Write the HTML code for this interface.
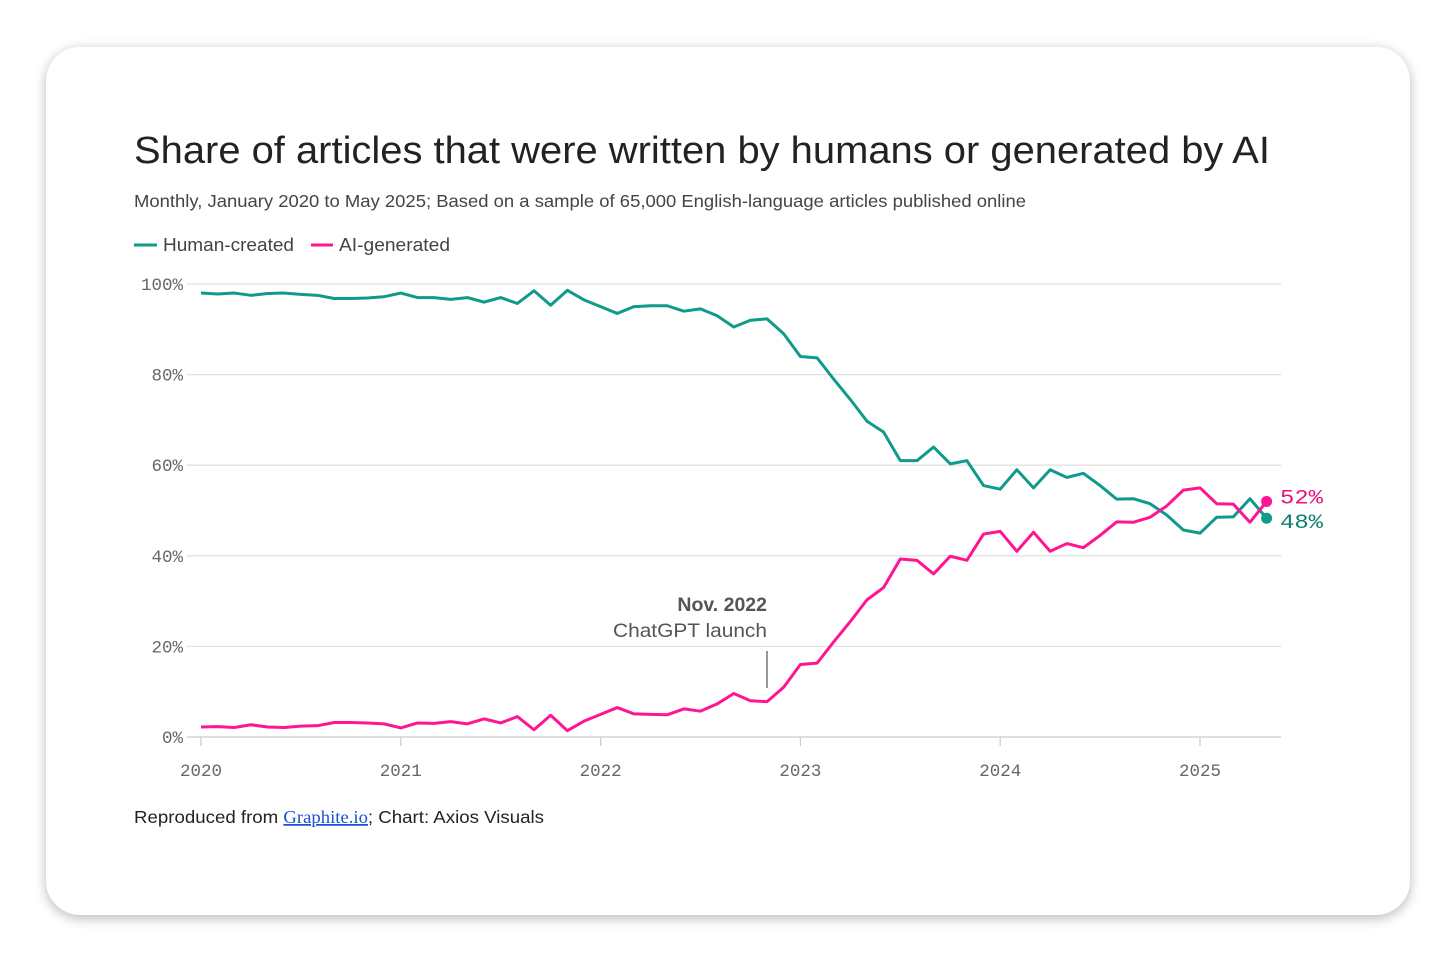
<!DOCTYPE html>
<html><head><meta charset="utf-8"><style>
body{margin:0;width:1456px;height:962px;background:#fff;overflow:hidden;font-family:"Liberation Sans",sans-serif;}
#card{position:absolute;left:46px;top:47px;width:1364px;height:868px;background:#fff;border-radius:34px;box-shadow:0 3px 12px rgba(0,0,0,0.28);}
svg{position:absolute;left:0;top:0;}
</style></head><body>
<div id="card"></div>
<svg id="chart" width="1456" height="962">
<text x="134" y="163" font-size="38" textLength="1136" lengthAdjust="spacingAndGlyphs" fill="#222">Share of articles that were written by humans or generated by AI</text>
<text x="134" y="207" font-size="17.5" textLength="892" lengthAdjust="spacingAndGlyphs" fill="#444">Monthly, January 2020 to May 2025; Based on a sample of 65,000 English-language articles published online</text>
<g>
<line x1="134" y1="245" x2="157" y2="245" stroke="#0f9a8a" stroke-width="3"/>
<text x="163" y="251" font-size="18" textLength="131" lengthAdjust="spacingAndGlyphs" fill="#444">Human-created</text>
<line x1="311" y1="245" x2="333" y2="245" stroke="#ff1493" stroke-width="3"/>
<text x="339" y="251" font-size="18" textLength="111" lengthAdjust="spacingAndGlyphs" fill="#444">AI-generated</text>
</g>
<g id="grid"></g><g id="axes"></g><g id="lines"></g>
<g>
<text x="767" y="611" font-size="19.5" font-weight="bold" fill="#555" text-anchor="end">Nov. 2022</text>
<text x="767" y="637" font-size="19.5" textLength="154" lengthAdjust="spacingAndGlyphs" fill="#555" text-anchor="end">ChatGPT launch</text>
<line x1="767" y1="651" x2="767" y2="688" stroke="#333" stroke-width="1"/>
</g>
<text x="134" y="823" font-size="17.5" textLength="410" lengthAdjust="spacingAndGlyphs" fill="#222">Reproduced from <tspan fill="#1a4fd6" text-decoration="underline" font-family="Liberation Serif, serif">Graphite.io</tspan>; Chart: Axios Visuals</text>
</svg>
<script>
const human=[98,97.8,98,97.5,97.9,98,97.7,97.5,96.8,96.8,96.9,97.2,
98,97,97,96.6,97,96,97,95.7,98.5,95.3,98.6,96.5,
95,93.5,95,95.2,95.2,94,94.5,93,90.5,92,92.3,89,
84,83.7,79,74.5,69.7,67.3,61,61,64,60.3,61,55.5,
54.7,59,55,59,57.3,58.2,55.5,52.5,52.6,51.5,49,45.7,
45,48.5,48.6,52.6,48.3];
const ai=[2.2,2.3,2.1,2.7,2.2,2.1,2.4,2.5,3.2,3.2,3.1,2.9,
2.0,3.1,3.0,3.4,2.9,4.0,3.1,4.5,1.6,4.8,1.4,3.5,
5.0,6.5,5.1,5.0,4.9,6.2,5.7,7.3,9.6,8.0,7.8,11,
16,16.3,21,25.5,30.3,33,39.3,39,36,39.9,39,44.8,
45.4,41,45.2,41,42.7,41.8,44.5,47.5,47.4,48.5,51,54.5,
55,51.5,51.4,47.4,52];
const yTicks=[0,20,40,60,80,100];
const xYears=[2020,2021,2022,2023,2024,2025];
const NS="http://www.w3.org/2000/svg";
const X=m=>201+m*(999/60);
const Y=v=>737-v*4.53;
function mk(tag,attrs,parent,txt){const e=document.createElementNS(NS,tag);for(const k in attrs)e.setAttribute(k,attrs[k]);if(txt!==undefined)e.textContent=txt;parent.appendChild(e);return e;}
const grid=document.getElementById('grid'),axes=document.getElementById('axes'),lines=document.getElementById('lines');
yTicks.forEach(t=>{
 const l=mk('line',{x1:187,x2:1281,y1:Y(t),y2:Y(t),stroke:t===0?'#ccc':'#e2e2e2','stroke-width':1.3},grid);
 
 
 const tx=mk('text',{x:183,y:Y(t)+6,'font-size':17.5,'text-anchor':'end',fill:'#666','font-family':'Liberation Mono, monospace'},axes,t+'%');
 
 
});
xYears.forEach((yr,i)=>{
 const x=X(i*12);
 mk('line',{x1:x,x2:x,y1:737,y2:746,stroke:'#ccc','stroke-width':1.3},axes);
 const tx=mk('text',{x:x,y:776,'font-size':17.5,'text-anchor':'middle',fill:'#666','font-family':'Liberation Mono, monospace'},axes,yr);
 
 
});
function series(arr,color,name){
 const p=mk('polyline',{points:arr.map((v,i)=>X(i)+','+Y(v)).join(' '),fill:'none',stroke:color,'stroke-width':3,'stroke-linejoin':'round'},lines);
 
 
 const n=arr.length-1;
 const c=mk('circle',{cx:X(n),cy:Y(arr[n]),r:5.5,fill:color},lines);
 
 
 return n;
}
const nh=series(human,'#0f9a8a','human');
const na=series(ai,'#ff1493','ai');
const la=mk('text',{x:1280,y:Y(ai[na])+2,'font-size':20,textLength:43,lengthAdjust:'spacingAndGlyphs',fill:'#e8117f','font-family':'Liberation Mono, monospace'},lines,Math.round(ai[na])+'%');


const lh=mk('text',{x:1280,y:Y(human[nh])+10,'font-size':20,textLength:43,lengthAdjust:'spacingAndGlyphs',fill:'#0b7f70','font-family':'Liberation Mono, monospace'},lines,Math.round(human[nh])+'%');


</script>
</body></html>
